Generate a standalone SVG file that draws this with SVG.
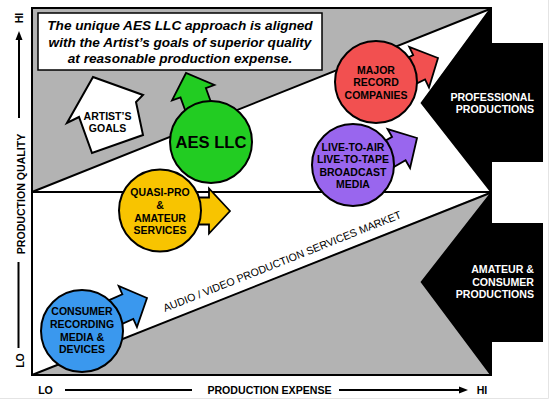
<svg xmlns="http://www.w3.org/2000/svg" width="550" height="400" viewBox="0 0 550 400">
<style>
text{font-family:"Liberation Sans",Arial,Helvetica,sans-serif}
.lbl{font-size:10.5px;font-weight:bold;fill:#000;text-anchor:middle}
.wl{font-size:10.6px;font-weight:bold;fill:#fff;text-anchor:end}
.ax{font-size:10.6px;font-weight:bold;fill:#000;text-anchor:middle}
.title{font-size:13.6px;font-weight:bold;font-style:italic;fill:#000;text-anchor:middle}
.circ{stroke:#000;stroke-width:2}
.arr{stroke:#000;stroke-width:1.8;stroke-linejoin:miter}
.ln{stroke:#000;stroke-width:2;fill:none}
</style>
<defs>
<path id="arrow" d="M0,0 L-21,-22.5 L-21,-13.5 L-52,-13.5 L-52,13.5 L-21,13.5 L-21,22.5 Z"/>
</defs>
<rect x="0" y="0" width="550" height="400" fill="#fff"/>
<path d="M548.5,0 V398.5 H0" fill="none" stroke="#e4e4e4" stroke-width="1"/>

<g id="market-frame">
<rect x="32" y="8" width="459" height="367" fill="#b3b3b3"/>
<polygon points="32,192 490,9 420.5,103 490,192" fill="#fff"/>
<polygon points="32,192 490,192 32,375" fill="#fff"/>
<path id="professional" d="M490,8 L420.5,103 L491,193 L491,162 L543,162 L543,43 L491,43 L491,8 Z" fill="#000"/>
<path id="amateur" d="M490,193 L420.5,282 L490,375 L491,376 L491,342 L543,342 L543,223 L491,223 Z" fill="#000"/>
<line class="ln" x1="32" y1="192" x2="490" y2="9"/>
<line class="ln" x1="32" y1="192" x2="491" y2="192"/>
<line class="ln" x1="32" y1="375" x2="490" y2="193"/>
<rect x="32" y="8" width="459" height="367" class="ln"/>
<text class="wl" x="534" y="101">PROFESSIONAL</text>
<text class="wl" x="534" y="113">PRODUCTIONS</text>
<text class="wl" x="534" y="273">AMATEUR &amp;</text>
<text class="wl" x="534" y="285.5">CONSUMER</text>
<text class="wl" x="534" y="298">PRODUCTIONS</text>
<text transform="translate(165,312) rotate(-21.7)" style="font-size:10.7px;fill:#000">AUDIO / VIDEO PRODUCTION SERVICES MARKET</text>
</g>

<g id="title-box">
<rect x="38" y="13" width="284" height="57" fill="#fff" stroke="#000" stroke-width="1.5"/>
<text class="title" x="180" y="30">The unique AES LLC approach is aligned</text>
<text class="title" x="180" y="46.5">with the Artist’s goals of superior quality</text>
<text class="title" x="180" y="63">at reasonable production expense.</text>
</g>

<g id="axes">
<line class="ln" x1="19" y1="118" x2="19" y2="38"/>
<polygon points="19,31 15.5,40 22.5,40" fill="#000"/>
<line class="ln" x1="18.5" y1="262" x2="18.5" y2="348"/>
<text class="ax" transform="translate(23,18) rotate(-90)">HI</text>
<text class="ax" transform="translate(24.5,194) rotate(-90)">PRODUCTION QUALITY</text>
<text class="ax" transform="translate(23.5,360.5) rotate(-90)">LO</text>
<text class="ax" x="45.5" y="394">LO</text>
<line class="ln" x1="65" y1="390" x2="192" y2="390"/>
<text class="ax" x="269.5" y="394">PRODUCTION EXPENSE</text>
<line class="ln" x1="339" y1="390" x2="461" y2="390"/>
<polygon points="468,390 459,386.5 459,393.5" fill="#000"/>
<text class="ax" x="482" y="394">HI</text>
</g>

<g id="artists-goals">
<polygon points="93,77 143,95 136,102 143,135 92,153 79,117 67,123" fill="#fff" stroke="#000" stroke-width="2" stroke-linejoin="miter"/>
<text class="lbl" x="107.5" y="119.5">ARTIST’S</text>
<text class="lbl" x="107.5" y="132">GOALS</text>
</g>

<g id="aes-llc">
<use href="#arrow" class="arr" fill="#22cc22" transform="translate(186,73) rotate(-110)"/>
<circle class="circ" cx="211" cy="142" r="41" fill="#22cc22"/>
<text x="211" y="148" style="font-size:16.6px;font-weight:bold;text-anchor:middle;fill:#000">AES LLC</text>
</g>

<g id="quasi-pro">
<use href="#arrow" class="arr" fill="#f8c400" transform="translate(230,211)"/>
<circle class="circ" cx="160" cy="210.5" r="41" fill="#f8c400"/>
<text class="lbl" x="160" y="196">QUASI-PRO</text>
<text class="lbl" x="160" y="209">&amp;</text>
<text class="lbl" x="160" y="221.5">AMATEUR</text>
<text class="lbl" x="160" y="234">SERVICES</text>
</g>

<g id="consumer">
<use href="#arrow" class="arr" fill="#3a98ee" transform="translate(147,298) rotate(-24)"/>
<circle class="circ" cx="82" cy="331" r="41" fill="#3a98ee"/>
<text class="lbl" x="82" y="315">CONSUMER</text>
<text class="lbl" x="82" y="327.5">RECORDING</text>
<text class="lbl" x="82" y="340.5">MEDIA &amp;</text>
<text class="lbl" x="82" y="353">DEVICES</text>
</g>

<g id="major-record">
<use href="#arrow" class="arr" fill="#f25050" transform="translate(438,58) rotate(-26)"/>
<circle class="circ" cx="376" cy="82" r="41" fill="#f25050"/>
<text class="lbl" x="376" y="74">MAJOR</text>
<text class="lbl" x="376" y="86">RECORD</text>
<text class="lbl" x="376" y="99">COMPANIES</text>
</g>

<g id="broadcast">
<use href="#arrow" class="arr" fill="#9966ee" transform="translate(417,138) rotate(-30)"/>
<circle class="circ" cx="353" cy="165" r="41" fill="#9966ee"/>
<text class="lbl" x="353" y="151">LIVE-TO-AIR</text>
<text class="lbl" x="353" y="163">LIVE-TO-TAPE</text>
<text class="lbl" x="353" y="175.5">BROADCAST</text>
<text class="lbl" x="353" y="188">MEDIA</text>
</g>
</svg>
